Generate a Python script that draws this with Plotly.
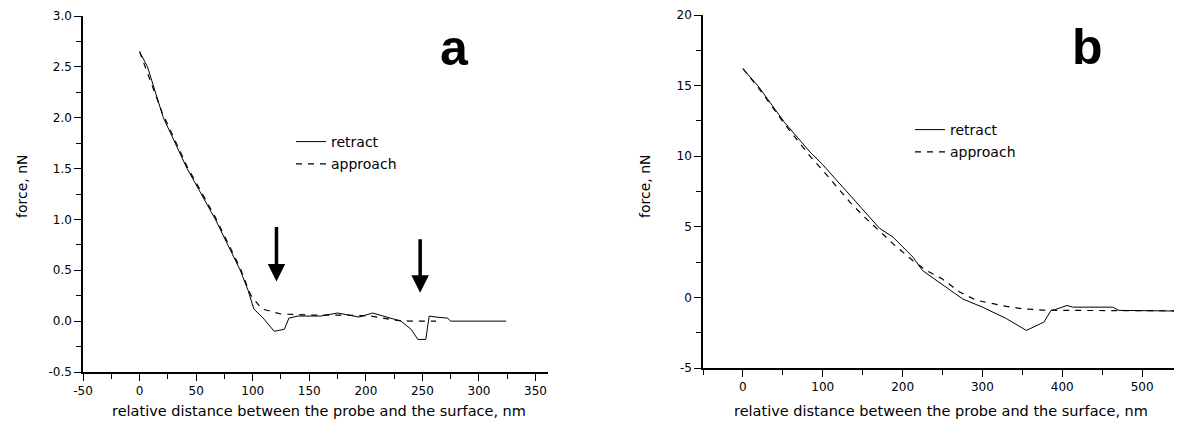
import plotly.graph_objects as go

# ---------------- data: panel a ----------------
a_retract_x = [0, 7, 21, 42, 67, 89, 96, 101, 110, 119, 128, 132, 140, 160, 175, 185, 194, 206, 215, 231, 240, 246, 253, 256, 262, 272, 275, 324]
a_retract_y = [2.65, 2.5, 2.0, 1.5, 1.0, 0.5, 0.3, 0.12, 0.02, -0.1, -0.08, 0.03, 0.05, 0.05, 0.08, 0.06, 0.04, 0.08, 0.05, 0.0, -0.08, -0.18, -0.18, 0.05, 0.04, 0.03, 0.0, 0.0]
a_approach_x = [0, 20, 42, 67, 89, 98, 108, 125, 150, 180, 205, 225, 240, 262]
a_approach_y = [2.65, 2.05, 1.52, 1.02, 0.52, 0.26, 0.12, 0.07, 0.06, 0.06, 0.05, 0.01, 0.0, 0.0]

# arrows in panel a (x position, tail y, head y)
arrow_x = [121, 248]
arrow_tail_y = [0.94, 0.82]
arrow_head_y = [0.39, 0.28]

# ---------------- data: panel b ----------------
b_retract_x = [0, 20, 52, 84, 100, 130, 150, 171, 188, 213, 225, 255, 275, 300, 330, 355, 377, 386, 392, 406, 413, 463, 471, 550]
b_retract_y = [16.2, 14.9, 12.4, 10.3, 9.4, 7.5, 6.2, 4.9, 4.27, 2.85, 1.9, 0.73, -0.1, -0.69, -1.5, -2.34, -1.75, -0.92, -0.85, -0.57, -0.69, -0.69, -0.92, -0.97]
b_approach_x = [0, 20, 52, 84, 100, 117, 134, 152, 173, 190, 213, 230, 250, 271, 292, 313, 330, 350, 375, 400, 450, 500, 550]
b_approach_y = [16.2, 14.8, 12.3, 10.0, 9.0, 7.9, 6.75, 5.7, 4.6, 3.7, 2.6, 1.9, 1.3, 0.4, -0.2, -0.45, -0.64, -0.8, -0.9, -0.92, -0.92, -0.95, -0.95]

a_xticks = [-50, 0, 50, 100, 150, 200, 250, 300, 350]
a_xtick_text = ["-50", "0", "50", "100", "150", "200", "250", "300", "350"]
a_yticks = [-0.5, 0.0, 0.5, 1.0, 1.5, 2.0, 2.5, 3.0]
a_ytick_text = ["-0.5", "0.0", "0.5", "1.0", "1.5", "2.0", "2.5", "3.0"]
b_xticks = [0, 100, 200, 300, 400, 500]
b_xtick_text = ["0", "100", "200", "300", "400", "500"]
b_yticks = [-5, 0, 5, 10, 15, 20]
b_ytick_text = ["-5", "0", "5", "10", "15", "20"]

names = ["retract", "approach"]
x_title = "relative distance between the probe and the surface, nm"
y_title = "force, nN"
panel_labels = ["a", "b"]

FONT = "DejaVu Sans"
BLACK = "black"

# page body has an 8px margin: the figure starts at screen (8, 8)
OFF = 8
W, H = 1182 - OFF, 431 - OFF

def px(x):
    return (x - OFF) / W

def py(y):
    return 1 - (y - OFF) / H

fig = go.Figure()
fig.add_trace(go.Scatter(x=a_retract_x, y=a_retract_y, mode="lines", name=names[0],
                         line=dict(color=BLACK, width=1), xaxis="x", yaxis="y",
                         legend="legend", legendgroup="ar"))
fig.add_trace(go.Scatter(x=a_approach_x, y=a_approach_y, mode="lines", name=names[1],
                         line=dict(color=BLACK, width=1.2, dash="6px,6px"), xaxis="x", yaxis="y",
                         legend="legend", legendgroup="aa"))
fig.add_trace(go.Scatter(x=b_retract_x, y=b_retract_y, mode="lines", name=names[0],
                         line=dict(color=BLACK, width=1), xaxis="x2", yaxis="y2",
                         legend="legend2", legendgroup="br"))
fig.add_trace(go.Scatter(x=b_approach_x, y=b_approach_y, mode="lines", name=names[1],
                         line=dict(color=BLACK, width=1.2, dash="6px,6px"), xaxis="x2", yaxis="y2",
                         legend="legend2", legendgroup="ba"))

def axis(domain, rng, ticks, text, dminor, anchor):
    return dict(domain=domain, range=rng, tickvals=ticks, ticktext=text, anchor=anchor,
                showline=True, linecolor=BLACK, linewidth=1.5, mirror=False,
                ticks="outside", ticklen=7, tickwidth=1.2, tickcolor=BLACK,
                minor=dict(dtick=dminor, tick0=0, ticks="outside", ticklen=5, tickwidth=1.2, tickcolor=BLACK),
                showgrid=False, zeroline=False, automargin=False,
                tickfont=dict(family=FONT, size=12, color=BLACK))

fig.update_layout(
    width=W, height=H,
    margin=dict(l=0, r=0, t=0, b=0),
    paper_bgcolor="white", plot_bgcolor="white",
    font=dict(family=FONT, color=BLACK),
    xaxis=axis([px(83), px(548)], [-50, 361], a_xticks, a_xtick_text, 25, "y"),
    yaxis=axis([py(372), py(16)], [-0.5, 3.0], a_yticks, a_ytick_text, 0.25, "x"),
    xaxis2=axis([px(703), 1.0], [-50, 550], b_xticks, b_xtick_text, 50, "y2"),
    yaxis2=axis([py(368), py(15)], [-5, 20], b_yticks, b_ytick_text, 2.5, "x2"),
    legend=dict(x=px(291), y=py(126), xanchor="left", yanchor="top",
                bgcolor="rgba(0,0,0,0)", font=dict(family=FONT, size=14, color=BLACK),
                tracegroupgap=1, itemwidth=30),
    legend2=dict(x=px(910), y=py(114), xanchor="left", yanchor="top",
                 bgcolor="rgba(0,0,0,0)", font=dict(family=FONT, size=14, color=BLACK),
                 tracegroupgap=1, itemwidth=30),
    showlegend=True,
)

ann = []
# axis titles
for cx, cy in [(319, 411), (941, 411)]:
    ann.append(dict(x=px(cx), y=py(cy), xref="paper", yref="paper", text=x_title,
                    xanchor="center", yanchor="middle",
                    showarrow=False, font=dict(family=FONT, size=14.5, color=BLACK)))
for cx, cy in [(22, 186), (645, 186)]:
    ann.append(dict(x=px(cx), y=py(cy), xref="paper", yref="paper", text=y_title,
                    xanchor="center", yanchor="middle",
                    showarrow=False, textangle=-90, font=dict(family=FONT, size=14, color=BLACK)))
# panel labels
for lab, (cx, cy) in zip(panel_labels, [(454, 48), (1087, 47)]):
    ann.append(dict(x=px(cx), y=py(cy), xref="paper", yref="paper", text="<b>%s</b>" % lab,
                    xanchor="center", yanchor="middle",
                    showarrow=False, font=dict(family="Liberation Sans", size=50, color=BLACK)))
# arrows
for xv, yt, yh in zip(arrow_x, arrow_tail_y, arrow_head_y):
    ann.append(dict(x=xv, y=yh, ax=xv, ay=yt, xref="x", yref="y", axref="x", ayref="y",
                    text="", showarrow=True, arrowhead=2, arrowwidth=3.5, arrowsize=1.0,
                    arrowcolor=BLACK))
fig.update_layout(annotations=ann)

fig.write_html("out.html")
